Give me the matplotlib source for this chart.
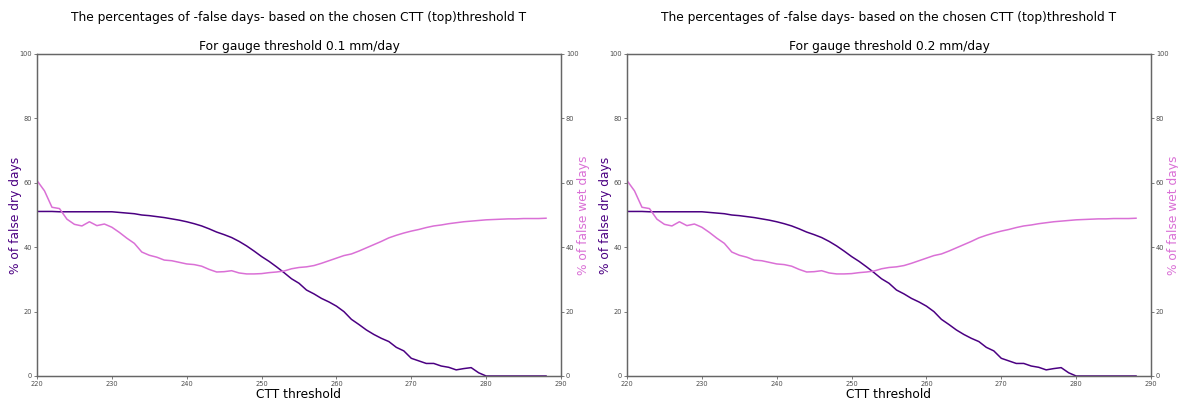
import numpy as np
from matplotlib import pyplot as plt

# CTT thresholds (K)
ctt = np.arange(220, 289)

# % of false dry days for each threshold
dry = [51.1, 51.1, 51.1, 51.0, 51.0, 51.0, 51.0, 51.0, 51.0, 51.0,
       51.0, 50.8, 50.6, 50.4, 50.0, 49.8, 49.5, 49.2, 48.8, 48.4,
       47.9, 47.3, 46.6, 45.7, 44.7, 43.9, 43.0, 41.8, 40.4, 38.8,
       37.1, 35.6, 33.9, 32.1, 30.2, 28.8, 26.7, 25.5, 24.1, 23.0,
       21.7, 20.0, 17.6, 16.0, 14.3, 12.9, 11.7, 10.7, 8.9, 7.8,
       5.5, 4.7, 3.9, 3.9, 3.1, 2.7, 1.9, 2.3, 2.6, 1.0,
       0.0, 0.0, 0.0, 0.0, 0.0, 0.0, 0.0, 0.0, 0.0]

# % of false wet days for each threshold
wet = [60.7, 57.5, 52.4, 52.0, 48.7, 47.1, 46.6, 47.9, 46.7, 47.2,
       46.2, 44.6, 42.8, 41.2, 38.5, 37.5, 36.9, 36.0, 35.8, 35.3,
       34.8, 34.6, 34.1, 33.1, 32.3, 32.4, 32.7, 32.0, 31.7, 31.7,
       31.8, 32.1, 32.3, 32.6, 33.3, 33.7, 33.9, 34.3, 35.0, 35.8,
       36.6, 37.4, 37.9, 38.8, 39.8, 40.8, 41.8, 42.9, 43.7, 44.4,
       45.0, 45.5, 46.1, 46.6, 46.9, 47.3, 47.6, 47.9, 48.1, 48.3,
       48.5, 48.6, 48.7, 48.8, 48.8, 48.9, 48.9, 48.9, 49.0]

gauge = ['0.1', '0.2']

fs = 8.8
grey = '0.4'

fig = plt.figure(figsize=(11.78, 4.03), dpi=100)
lefts = [37 / 1178, 627 / 1178]
w = 524 / 1178
b = 1 - 376 / 403
h = 322 / 403


def style(a):
    for s in a.spines.values():
        s.set_color(grey)
        s.set_linewidth(0.9)
    a.tick_params(labelsize=4.8, length=2, width=0.6, pad=1.5,
                  color=grey, labelcolor='0.3')


for g, l in zip(gauge, lefts):
    ax = fig.add_axes([l, b, w, h])
    ax.plot(ctt, dry, color='indigo', lw=1.1)
    ax.set_xlim(220, 290)
    ax.set_ylim(0, 100)
    ax.set_yticks(range(0, 101, 20))
    ax.set_xticks(range(220, 291, 10))
    style(ax)
    ax.set_ylabel('% of false dry days', color='indigo', fontsize=fs, labelpad=-1.5)
    ax.set_xlabel('CTT threshold', fontsize=fs, labelpad=0.5)
    ax.set_title('For gauge threshold ' + g + ' mm/day', fontsize=fs, pad=3)

    ax2 = ax.twinx()
    ax2.plot(ctt, wet, color='orchid', lw=1.1)
    ax2.set_ylim(0, 100)
    ax2.set_yticks(range(0, 101, 20))
    style(ax2)
    ax2.set_ylabel('% of false wet days', color='orchid', fontsize=fs, labelpad=-1)

    fig.text(l + w / 2, 1 - 18 / 403,
             'The percentages of -false days- based on the chosen CTT (top)threshold T',
             ha='center', va='center', fontsize=fs)

fig.savefig('out.png', dpi=100)
